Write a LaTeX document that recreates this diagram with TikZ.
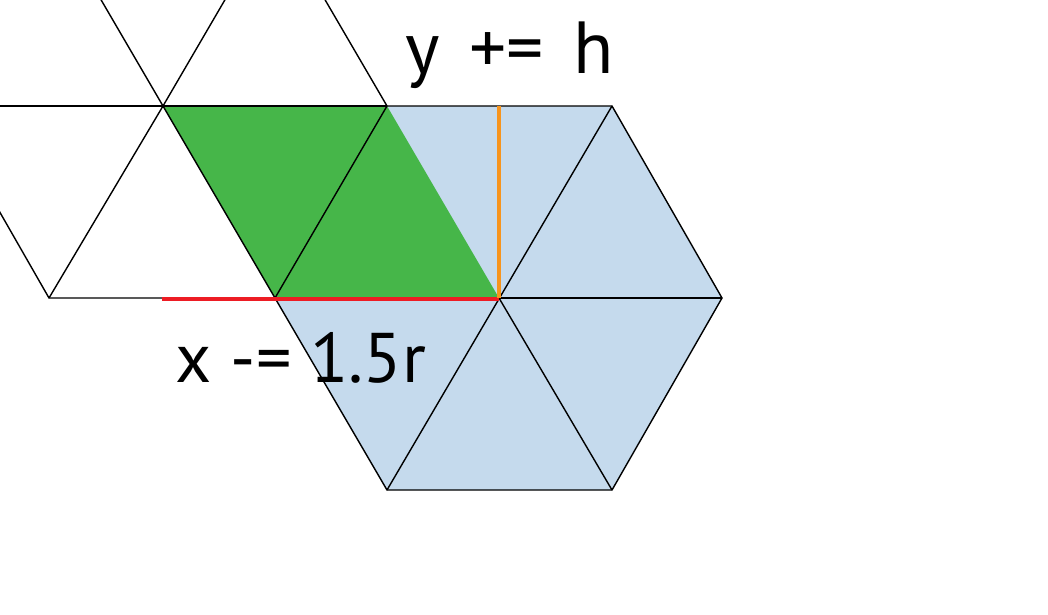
\documentclass[tikz,border=0pt]{standalone}
\usepackage{fontspec}
\setmainfont{PT Sans}
\definecolor{hexblue}{RGB}{197,218,237}
\definecolor{cellgreen}{RGB}{70,182,73}
\definecolor{moveorange}{RGB}{247,148,29}
\definecolor{movered}{RGB}{237,28,36}

\begin{document}
\begin{tikzpicture}[edge/.style={black, line width=0.4pt},
                    steplabel/.style={font=\fontsize{20}{24}\selectfont, anchor=base}]
          \useasboundingbox (0,0) rectangle (10.48,6.14);
          \clip (0,0) rectangle (10.48,6.14);
          % hexagon fill
          \fill[hexblue] (2.75,3.16) -- (3.87,5.08) -- (6.12,5.08) -- (7.22,3.16) -- (6.12,1.24) -- (3.87,1.24) -- cycle;
          % green cells
          \fill[cellgreen] (1.63,5.08) -- (3.87,5.08) -- (4.99,3.16) -- (2.75,3.16) -- cycle;
          % grid on the left
          \draw[edge] (0,5.08) -- (3.87,5.08);
          \draw[edge] (-0.61,5.08) -- (0.49,3.16) -- (2.75,3.16);
          \draw[edge] (0.51,7.00) -- (1.63,5.08) -- (0.49,3.16);
          \draw[edge] (2.75,7.00) -- (1.63,5.08) -- (2.75,3.16);
          \draw[edge] (2.75,7.00) -- (3.87,5.08);
          % hexagon edges and spokes
          \draw[edge] (2.75,3.16) -- (3.87,5.08) -- (6.12,5.08) -- (7.22,3.16) -- (6.12,1.24) -- (3.87,1.24) -- cycle;
          \draw[edge] (6.12,5.08) -- (3.87,1.24);
          \draw[edge] (7.22,3.16) -- (2.75,3.16);
          \draw[edge] (6.12,1.24) -- (4.99,3.16);
          % moves
          \draw[movered, line width=1.4pt] (1.62,3.15) -- (4.99,3.15);
          \draw[moveorange, line width=1pt] (4.99,5.08) -- (4.99,3.16);
          \node[steplabel, font=\fontsize{21}{24}\selectfont] (ylabel) at (5.10,5.41) {\spaceskip=0.4em y += h};
          \node[steplabel] (xlabel) at (3.01,2.32) {x -= 1.5r};
        \end{tikzpicture}
\end{document}
